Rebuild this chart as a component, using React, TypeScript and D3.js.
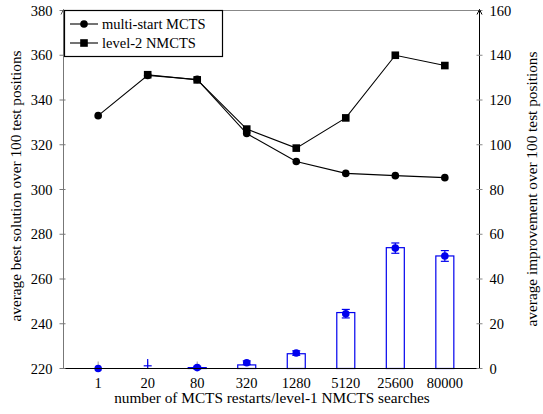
import * as d3 from "d3";

// x categories
const searches = ["1", "20", "80", "320", "1280", "5120", "25600", "80000"];

// left axis: average best solution
const multiStart = [333, 351, 349.2, 325, 312.5, 307.2, 306.2, 305.3];
const level2Cats = ["20", "80", "320", "1280", "5120", "25600", "80000"];
const level2 = [351.3, 349, 327, 318.5, 332, 360, 355.4];

// right axis: average improvement
const barHeights = [0, 0, 0.4, 1.6, 6.6, 25, 54, 50.3];
const improvement = [0, 2, 0.4, 2.6, 6.9, 24.5, 53.8, 50.3];
const improvementErr = [0, 2.2, 0.6, 0.8, 1, 1.9, 2.3, 2.4];
const showMean = [true, false, true, true, true, true, true, true];

const leftTicks = [220, 240, 260, 280, 300, 320, 340, 360, 380];
const rightTicks = [0, 20, 40, 60, 80, 100, 120, 140, 160];

const W = 543, H = 414;
const left = 63.5, right = 479.5, top = 10.5, bottom = 368.5;
const blue = "#0000ee";
const txt = { fontFamily: "'Liberation Serif', 'Times New Roman', serif", fontSize: 14.5 };
const title = { ...txt, fontSize: 15.3 };

export default function App() {
  const x = d3.scalePoint<string>().domain(searches).range([left, right]).padding(0.7);
  const yL = d3.scaleLinear().domain([220, 380]).range([bottom, top]);
  const yR = d3.scaleLinear().domain([0, 160]).range([bottom, top]);

  const lineL = d3.line<number>().x((_, i) => x(searches[i])!).y(d => yL(d));
  const line2 = d3.line<number>().x((_, i) => x(level2Cats[i])!).y(d => yL(d));

  const barW = 18;
  const capW = 8;

  return (
    <svg width={W} height={H} style={{ position: "absolute", left: 0, top: 0 }}>
      <rect width={W} height={H} fill="white" />
      {/* frame top */}
      <line x1={left} x2={right} y1={top} y2={top} stroke="#888" />
      {/* x ticks */}
      {searches.map(s => (
        <line key={s} x1={x(s)} x2={x(s)} y1={bottom} y2={bottom - 7} stroke="#999" />
      ))}
      {/* bars */}
      {searches.map((s, i) => barHeights[i] > 0 || i === 2 ? (
        <rect key={s} x={x(s)! - barW / 2} y={yR(barHeights[i])} width={barW}
          height={Math.max(0.5, bottom - yR(barHeights[i]))} fill="white" stroke={blue} strokeWidth={1.2} />
      ) : null)}
      {/* error bars */}
      {searches.map((s, i) => improvementErr[i] > 0 ? (
        <g key={s} stroke={blue} strokeWidth={1.2}>
          <line x1={x(s)} x2={x(s)} y1={yR(improvement[i] - improvementErr[i])} y2={yR(improvement[i] + improvementErr[i])} />
          {showMean[i] ? (
            <>
              <line x1={x(s)! - capW / 2} x2={x(s)! + capW / 2} y1={yR(improvement[i] - improvementErr[i])} y2={yR(improvement[i] - improvementErr[i])} />
              <line x1={x(s)! - capW / 2} x2={x(s)! + capW / 2} y1={yR(improvement[i] + improvementErr[i])} y2={yR(improvement[i] + improvementErr[i])} />
            </>
          ) : (
            <line x1={x(s)! - capW / 2} x2={x(s)! + capW / 2} y1={yR(improvement[i] - 0.8)} y2={yR(improvement[i] - 0.8)} />
          )}
        </g>
      ) : null)}
      {searches.map((s, i) => showMean[i] ? (
        <circle key={s} cx={x(s)} cy={yR(improvement[i])} r={3.8} fill={blue} />
      ) : null)}
      {/* x axis */}
      <line x1={left} x2={right} y1={bottom} y2={bottom} stroke="black" strokeWidth={1.2} />
      {/* left axis */}
      <line x1={left} x2={left} y1={bottom} y2={top} stroke="#777" />
      {leftTicks.map(t => (
        <g key={t}>
          <line x1={left - 4} x2={left + 2} y1={yL(t)} y2={yL(t)} stroke="#777" />
          <text x={left - 11} y={yL(t)} dy="0.35em" textAnchor="end" style={txt}>{t}</text>
        </g>
      ))}
      <path d={`M${left - 2.5},${top + 4} L${left},${top - 1} L${left + 2.5},${top + 4}`} fill="none" stroke="#555" />
      {/* right axis */}
      <line x1={right} x2={right} y1={bottom} y2={top - 1} stroke="black" />
      {rightTicks.map(t => (
        <g key={t}>
          <line x1={right - 3} x2={right + 3} y1={yR(t)} y2={yR(t)} stroke="#888" />
          <text x={right + 10} y={yR(t)} dy="0.35em" textAnchor="start" style={txt}>{t}</text>
        </g>
      ))}
      <path d={`M${right - 2.5},${top + 4} L${right},${top - 1} L${right + 2.5},${top + 4}`} fill="none" stroke="black" />
      {/* lines */}
      <path d={lineL(multiStart)!} fill="none" stroke="black" strokeWidth={1.1} />
      <path d={line2(level2)!} fill="none" stroke="black" strokeWidth={1.1} />
      {multiStart.map((v, i) => (
        <circle key={i} cx={x(searches[i])} cy={yL(v)} r={3.8} fill="black" />
      ))}
      {level2.map((v, i) => (
        <rect key={i} x={x(level2Cats[i])! - 3.8} y={yL(v) - 3.8} width={7.6} height={7.6} fill="black" />
      ))}
      {/* x tick labels */}
      {searches.map(s => (
        <text key={s} x={x(s)} y={bottom + 19} textAnchor="middle" style={txt}>{s}</text>
      ))}
      {/* axis titles */}
      <text x={272} y={403} textAnchor="middle" style={title}>number of MCTS restarts/level-1 NMCTS searches</text>
      <text transform={`translate(21,186) rotate(-90)`} textAnchor="middle" style={title}>average best solution over 100 test positions</text>
      <text transform={`translate(537,189) rotate(-90)`} textAnchor="middle" style={title}>average improvement over 100 test positions</text>
      {/* legend */}
      <g>
        <rect x={64.5} y={10.5} width={158} height={46} fill="white" stroke="black" strokeWidth={1.2} />
        <line x1={70} x2={98} y1={24} y2={24} stroke="black" strokeWidth={1.1} />
        <circle cx={84} cy={24} r={3.8} fill="black" />
        <text x={102} y={24} dy="0.35em" style={txt}>multi-start MCTS</text>
        <line x1={70} x2={98} y1={43} y2={43} stroke="black" strokeWidth={1.1} />
        <rect x={80.2} y={39.2} width={7.6} height={7.6} fill="black" />
        <text x={102} y={43} dy="0.35em" style={txt}>level-2 NMCTS</text>
      </g>
    </svg>
  );
}
